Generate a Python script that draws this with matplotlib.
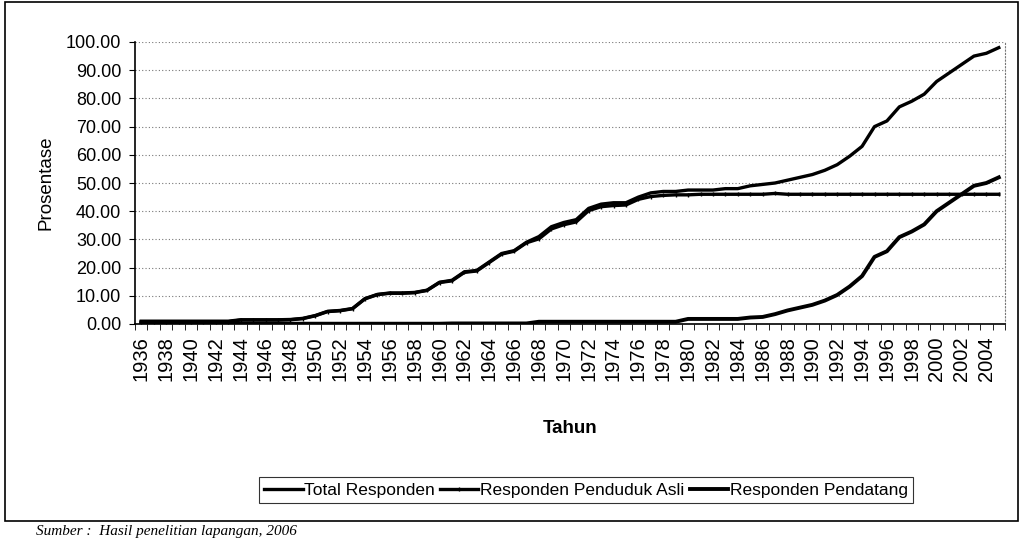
import numpy as np
import matplotlib
matplotlib.use("Agg")
import matplotlib.pyplot as plt
from matplotlib.patches import Rectangle

plt.rcParams['font.family'] = ['Liberation Sans', 'DejaVu Sans']

years = list(range(1936, 2006))

total = [1.0, 1.0, 1.0, 1.0, 1.0, 1.0, 1.0, 1.0,
         1.5, 1.5, 1.5, 1.5, 1.6, 2.0, 3.0, 4.5, 4.8, 5.5,
         9.0, 10.5, 11.0, 11.0, 11.2, 12.0, 14.8, 15.5, 18.5, 19.0,
         22.0, 25.0, 26.0, 29.0, 31.0, 34.5, 36.0, 37.0, 41.0, 42.5,
         43.0, 43.0, 45.0, 46.5, 47.0, 47.0, 47.5, 47.5, 47.5, 48.0,
         48.0, 49.0, 49.5, 50.0, 51.0, 52.0, 53.0, 54.5, 56.5, 59.5,
         63.0, 70.0, 72.0, 77.0, 79.0, 81.5, 86.0, 89.0, 92.0, 95.0,
         96.0, 98.0]

asli = [0.8, 0.8, 0.8, 0.8, 0.8, 0.8, 0.8, 0.8,
        1.4, 1.4, 1.4, 1.4, 1.5, 1.9, 2.9, 4.4, 4.7, 5.4,
        8.9, 10.4, 10.9, 10.9, 11.1, 11.9, 14.7, 15.3, 18.3, 18.8,
        21.8, 24.8, 25.8, 28.8, 30.2, 33.7, 35.2, 36.2, 40.2, 41.6,
        42.0, 42.2, 44.2, 45.2, 45.6, 45.8, 45.8, 46.0, 46.0, 46.0,
        46.0, 46.0, 46.0, 46.3, 46.0, 46.0, 46.0, 46.0, 46.0, 46.0,
        46.0, 46.0, 46.0, 46.0, 46.0, 46.0, 46.0, 46.0, 46.0, 46.0,
        46.0, 46.0]

pendatang = [0.3, 0.3, 0.3, 0.3, 0.3, 0.3, 0.3, 0.3,
             0.1, 0.1, 0.1, 0.1, 0.1, 0.1, 0.1, 0.1, 0.1, 0.1,
             0.1, 0.1, 0.1, 0.1, 0.1, 0.1, 0.1, 0.2, 0.2, 0.2,
             0.2, 0.2, 0.2, 0.2, 0.8, 0.8, 0.8, 0.8, 0.8, 0.8,
             0.8, 0.8, 0.8, 0.8, 0.8, 0.8, 1.8, 1.8, 1.8, 1.8,
             1.8, 2.3, 2.5, 3.5, 4.8, 5.8, 6.8, 8.3, 10.3, 13.3,
             17.0, 23.8, 25.8, 30.8, 32.8, 35.3, 40.0, 43.0, 46.0, 49.0,
             50.0, 52.0]

yticks = [0, 10, 20, 30, 40, 50, 60, 70, 80, 90, 100]

W, H = 1022, 541
fig = plt.figure(figsize=(W / 100, H / 100), dpi=100)

# chart border
fig.patches.append(Rectangle((5 / W, 1 - 521 / H), 1013 / W, 519 / H,
                             transform=fig.transFigure, fill=False,
                             edgecolor='black', linewidth=1.2))

ax = fig.add_axes([135 / W, 1 - 324 / H, 870 / W, 282 / H])
x = np.arange(len(years))

ax.plot(x, total, color='black', linewidth=2.4, label='Total Responden')
ax.plot(x, asli, color='black', linewidth=2.4, marker='|', markersize=3,
        markevery=1, label='Responden Penduduk Asli')
ax.plot(x, pendatang, color='black', linewidth=2.8, label='Responden Pendatang')

ax.set_xlim(-0.5, len(years) - 0.5)
ax.set_ylim(0, 100)
ax.set_yticks(yticks)
ax.set_yticklabels([f"{v:.2f}" for v in yticks], fontsize=13)
ax.yaxis.grid(True, linestyle=(0, (1, 2)), color='#777777', linewidth=0.8)
ax.set_axisbelow(True)

ax.set_xticks(x[::2])
ax.set_xticklabels([str(y) for y in years[::2]], rotation=90, fontsize=14.5)
ax.set_xticks(np.arange(-0.5, len(years), 1), minor=True)
ax.tick_params(axis='x', which='major', length=0, pad=9)
ax.tick_params(axis='x', which='minor', length=4, direction='out', color='black')
ax.tick_params(axis='y', length=4, direction='out', pad=6)

ax.spines['top'].set_visible(False)
ax.spines['right'].set_linestyle((0, (1, 2)))
ax.spines['right'].set_color('#777777')
ax.spines['left'].set_linewidth(1.2)
ax.spines['bottom'].set_linewidth(1.2)

ax.set_ylabel('Prosentase', fontsize=13.5, labelpad=8)
ax.set_xlabel('Tahun', fontsize=13.5, fontweight='bold', labelpad=28)

leg = ax.legend(loc='center', bbox_to_anchor=((586 - 135) / 870, (324 - 490) / 282),
                ncol=3, fontsize=12.5, frameon=True, fancybox=False,
                edgecolor='black', handlelength=2.2, handletextpad=0.1,
                columnspacing=0.3, borderpad=0.3)
leg.get_frame().set_linewidth(0.8)

fig.text(0.035, 1 - 525 / H, 'Sumber :  Hasil penelitian lapangan, 2006',
         fontsize=11, style='italic', family='Liberation Serif', va='top')

fig.savefig('out.png', dpi=100)
